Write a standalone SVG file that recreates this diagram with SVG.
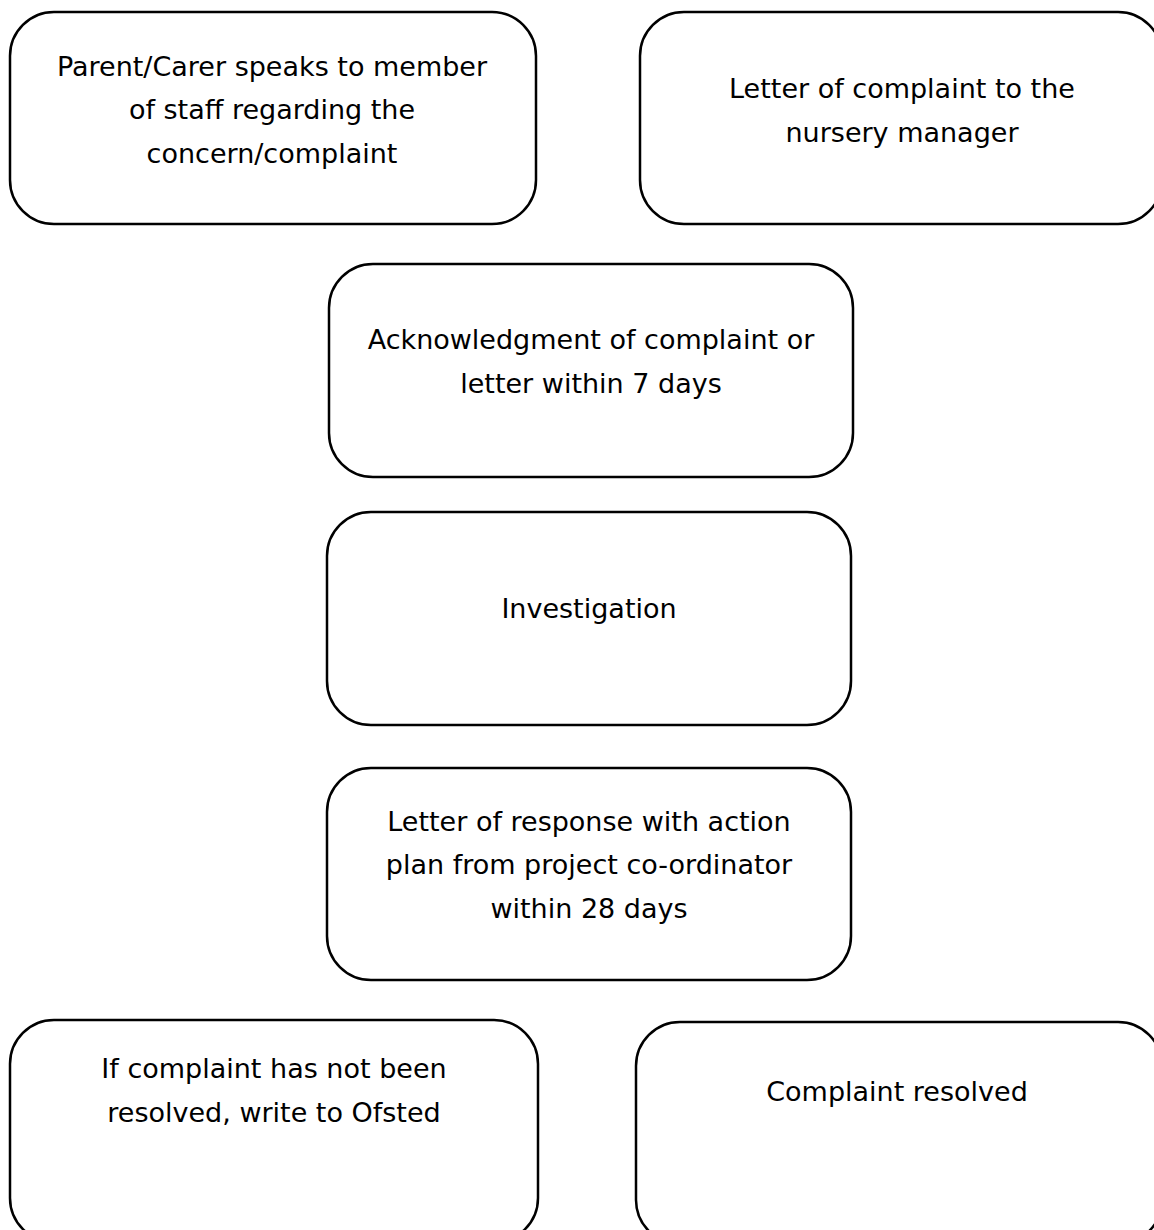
<svg xmlns="http://www.w3.org/2000/svg" width="1154" height="1230" viewBox="0 0 1154 1230">
<style>
.box{fill:#fff;stroke:#000;stroke-width:2.5}
.t{font-family:"DejaVu Sans","Liberation Sans",sans-serif;font-size:27px;fill:#000;text-anchor:middle}
</style>
<rect width="1154" height="1230" fill="#fff"/>
<g id="connectors"></g>
<g id="n1"><rect class="box" x="10" y="12" width="526" height="212" rx="44"/>
<text class="t" x="272" y="76">Parent/Carer speaks to member</text>
<text class="t" x="272" y="119">of staff regarding the</text>
<text class="t" x="272" y="163">concern/complaint</text></g>
<g id="n2"><rect class="box" x="640" y="12" width="522" height="212" rx="44"/>
<text class="t" x="902" y="98">Letter of complaint to the</text>
<text class="t" x="902" y="142">nursery manager</text></g>
<g id="n3"><rect class="box" x="329" y="264" width="524" height="213" rx="44"/>
<text class="t" x="591" y="349">Acknowledgment of complaint or</text>
<text class="t" x="591" y="393">letter within 7 days</text></g>
<g id="n4"><rect class="box" x="327" y="512" width="524" height="213" rx="44"/>
<text class="t" x="589" y="618">Investigation</text></g>
<g id="n5"><rect class="box" x="327" y="768" width="524" height="212" rx="44"/>
<text class="t" x="589" y="831">Letter of response with action</text>
<text class="t" x="589" y="874">plan from project co-ordinator</text>
<text class="t" x="589" y="918">within 28 days</text></g>
<g id="n6"><rect class="box" x="10" y="1020" width="528" height="222" rx="44"/>
<text class="t" x="274" y="1078">If complaint has not been</text>
<text class="t" x="274" y="1122">resolved, write to Ofsted</text></g>
<g id="n7"><rect class="box" x="636" y="1022" width="526" height="222" rx="44"/>
<text class="t" x="897" y="1101">Complaint resolved</text></g>
</svg>
